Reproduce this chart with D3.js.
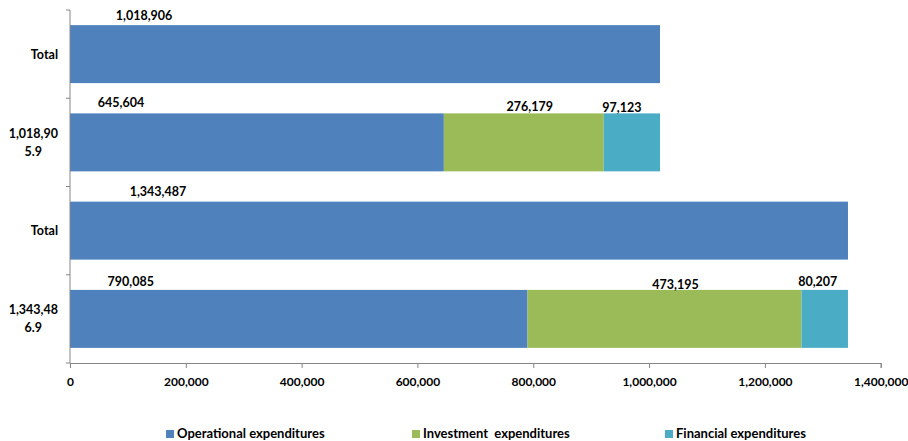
<!DOCTYPE html>
<html>
<head>
<meta charset="utf-8">
<script src="https://cdn.jsdelivr.net/npm/d3@7"></script>
<style>
  html, body { margin: 0; padding: 0; background: #ffffff; }
  svg { display: block; }
  text { font-family: Lato, "Open Sans", sans-serif; font-weight: bold; fill: #000; }
</style>
</head>
<body>
<svg id="chart" width="908" height="441"></svg>
<script>
// Expenditure breakdown by category (values in the same currency unit)
const categories = ["Total", "1,018,905.9", "Total", "1,343,486.9"];
const operational = [1018906, 645604, 1343487, 790085];
const investment  = [0, 276179, 0, 473195];
const financial   = [0, 97123, 0, 80207];
const xTicks = [0, 200000, 400000, 600000, 800000, 1000000, 1200000, 1400000];
const seriesNames = ["Operational expenditures", "Investment  expenditures", "Financial expenditures"];

// Presentation settings
const colors = ["#4F81BD", "#9BBB59", "#4BACC6"];
// horizontal nudge (px) of each value label from its segment centre, per series and row
const labelDx = [
  [-221, -136, -301, -168],
  [0, 6, 0, 11],
  [0, -10, 0, -7]
];
const labelDy = [
  [-5, -6, -6, -4],
  [0, -2, 0, -1],
  [0, -1, 0, -4]
];

const svg = d3.select("#chart");
const margin = { left: 70, top: 10 };

const x = d3.scaleLinear().domain([0, 1400000]).range([margin.left, 880.7]);
const y = d3.scaleBand().domain(d3.range(categories.length))
  .range([margin.top, 363]).paddingInner(0.343).paddingOuter(0.1715);

const seriesValues = [operational, investment, financial];
const rows = categories.map((c, i) => {
  let acc = 0;
  return seriesValues.map((vals, s) => {
    const v = vals[i];
    const seg = { row: i, s, v, x0: acc, x1: acc + v };
    acc += v;
    return seg;
  });
});
const segments = rows.flat().filter(d => d.v > 0);

// bars
svg.append("g").selectAll("rect").data(segments).join("rect")
  .attr("x", d => x(d.x0))
  .attr("y", d => y(d.row))
  .attr("width", d => x(d.x1) - x(d.x0))
  .attr("height", y.bandwidth())
  .attr("fill", d => colors[d.s]);

// value labels above each segment
const fmt = d3.format(",");
svg.append("g").selectAll("text").data(segments).join("text")
  .attr("x", d => (x(d.x0) + x(d.x1)) / 2 + labelDx[d.s][d.row])
  .attr("y", d => y(d.row) + labelDy[d.s][d.row])
  .attr("text-anchor", "middle")
  .attr("font-size", 12.5)
  .text(d => fmt(d.v));

// x axis
const xAxis = svg.append("g")
  .attr("transform", `translate(0,363)`)
  .call(d3.axisBottom(x).tickValues(xTicks).tickFormat(d3.format(",")).tickSize(5).tickPadding(9));
xAxis.select(".domain").attr("stroke", "#868686");
xAxis.selectAll(".tick line").attr("stroke", "#868686");
xAxis.selectAll(".tick text").attr("font-size", 12).attr("font-family", null).attr("fill", "#000");

// y axis line with ticks on band boundaries
const yAxisG = svg.append("g");
yAxisG.append("line")
  .attr("x1", margin.left).attr("x2", margin.left)
  .attr("y1", margin.top).attr("y2", 363)
  .attr("stroke", "#868686");
const boundaries = d3.range(categories.length + 1).map(i => margin.top + i * y.step());
yAxisG.selectAll("line.tk").data(boundaries).join("line")
  .attr("class", "tk")
  .attr("x1", margin.left - 4).attr("x2", margin.left)
  .attr("y1", d => d).attr("y2", d => d)
  .attr("stroke", "#868686");

// category labels: wrapped to a maximum width, lines centred within a right-aligned block
const maxW = 51, lineH = 18, rightEdge = 58;
const catG = svg.append("g");
categories.forEach((c, i) => {
  const probe = catG.append("text").attr("font-size", 12.5);
  const measure = s => { probe.text(s); return probe.node().getBBox().width; };
  const lines = [];
  let cur = "";
  for (const ch of c) {
    if (measure(cur + ch) > maxW && cur.length) {
      lines.push(cur);
      cur = ch;
    } else {
      cur += ch;
    }
  }
  lines.push(cur);
  const widths = lines.map(measure);
  probe.remove();
  const blockW = d3.max(widths);
  const cx = rightEdge - blockW / 2;
  const cy = y(i) + y.bandwidth() / 2;
  lines.forEach((l, k) => {
    catG.append("text")
      .attr("font-size", 12.5)
      .attr("dominant-baseline", "central")
      .attr("x", cx - widths[k] / 2)
      .attr("y", cy + (k - (lines.length - 1) / 2) * lineH)
      .text(l);
  });
});

// legend
const legendX = [166, 412, 665];
const legend = svg.append("g");
seriesNames.forEach((name, s) => {
  legend.append("rect")
    .attr("x", legendX[s]).attr("y", 430)
    .attr("width", 8).attr("height", 8)
    .attr("fill", colors[s]);
  legend.append("text")
    .attr("x", legendX[s] + 11).attr("y", 437.5)
    .attr("font-size", 13)
    .attr("xml:space", "preserve")
    .style("white-space", "pre")
    .text(name);
});
</script>
</body>
</html>
